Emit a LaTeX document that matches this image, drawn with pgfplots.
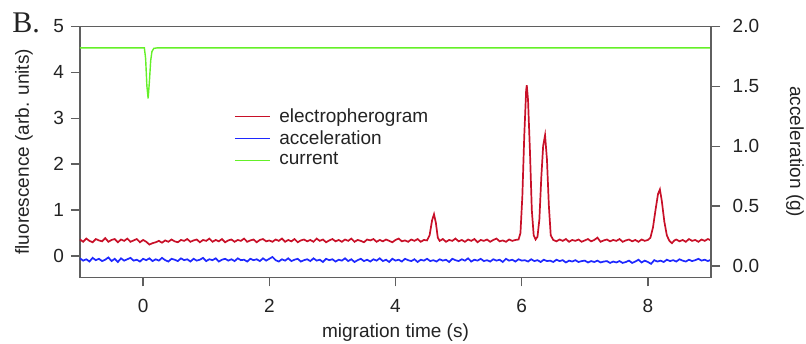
\documentclass[border=0pt]{standalone}
\usepackage{pgfplots}
\pgfplotsset{compat=1.18}
\usepackage{pgfplotstable}
\usepackage{fontspec}
\setmainfont{Liberation Sans}
\newfontfamily\seriffont{Liberation Serif}
\definecolor{elecred}{RGB}{200,16,40}
\definecolor{accblue}{RGB}{30,40,255}
\definecolor{curgreen}{RGB}{100,240,40}
\definecolor{framegray}{RGB}{95,95,95}
\definecolor{txt}{RGB}{35,35,35}

\pgfplotstableread{
x y
-1.00 0.36
-0.95 0.31
-0.90 0.38
-0.85 0.33
-0.80 0.30
-0.75 0.37
-0.70 0.34
-0.65 0.32
-0.60 0.39
-0.55 0.31
-0.50 0.35
-0.45 0.37
-0.40 0.30
-0.35 0.36
-0.30 0.33
-0.25 0.38
-0.20 0.31
-0.15 0.34
-0.10 0.37
-0.05 0.30
0.00 0.35
0.05 0.31
0.10 0.25
0.15 0.28
0.20 0.30
0.25 0.33
0.30 0.29
0.35 0.34
0.40 0.31
0.45 0.36
0.50 0.32
0.55 0.30
0.60 0.35
0.65 0.33
0.70 0.37
0.75 0.31
0.80 0.34
0.85 0.36
0.90 0.30
0.95 0.35
1.00 0.33
1.05 0.38
1.10 0.31
1.15 0.35
1.20 0.32
1.25 0.37
1.30 0.30
1.35 0.34
1.40 0.36
1.45 0.31
1.50 0.35
1.55 0.33
1.60 0.38
1.65 0.31
1.70 0.34
1.75 0.36
1.80 0.30
1.85 0.35
1.90 0.37
1.95 0.32
2.00 0.34
2.05 0.31
2.10 0.36
2.15 0.33
2.20 0.38
2.25 0.31
2.30 0.35
2.35 0.32
2.40 0.37
2.45 0.30
2.50 0.34
2.55 0.36
2.60 0.32
2.65 0.35
2.70 0.31
2.75 0.38
2.80 0.33
2.85 0.36
2.90 0.30
2.95 0.34
3.00 0.37
3.05 0.32
3.10 0.35
3.15 0.31
3.20 0.36
3.25 0.33
3.30 0.38
3.35 0.31
3.40 0.35
3.45 0.33
3.50 0.30
3.55 0.36
3.60 0.34
3.65 0.37
3.70 0.31
3.75 0.35
3.80 0.32
3.85 0.36
3.90 0.33
3.95 0.30
4.00 0.35
4.05 0.38
4.10 0.32
4.15 0.34
4.20 0.31
4.25 0.36
4.30 0.33
4.35 0.37
4.40 0.31
4.45 0.35
4.50 0.34
4.54 0.45
4.58 0.78
4.61 0.91
4.64 0.72
4.67 0.40
4.70 0.33
4.75 0.37
4.80 0.31
4.85 0.35
4.90 0.33
4.95 0.38
5.00 0.32
5.05 0.35
5.10 0.31
5.15 0.36
5.20 0.33
5.25 0.37
5.30 0.30
5.35 0.35
5.40 0.33
5.45 0.36
5.50 0.31
5.55 0.35
5.60 0.38
5.65 0.32
5.70 0.34
5.75 0.31
5.80 0.36
5.85 0.33
5.90 0.35
5.95 0.36
5.98 0.50
6.01 1.30
6.04 2.60
6.07 3.60
6.08 3.72
6.10 3.40
6.13 2.30
6.16 1.00
6.19 0.45
6.22 0.36
6.25 0.42
6.28 0.80
6.31 1.70
6.34 2.40
6.37 2.63
6.40 2.10
6.43 1.10
6.46 0.45
6.50 0.35
6.55 0.32
6.60 0.36
6.65 0.33
6.70 0.37
6.75 0.31
6.80 0.35
6.85 0.33
6.90 0.36
6.95 0.31
7.00 0.34
7.05 0.37
7.10 0.32
7.15 0.35
7.20 0.40
7.25 0.31
7.30 0.34
7.35 0.36
7.40 0.32
7.45 0.35
7.50 0.33
7.55 0.37
7.60 0.31
7.65 0.34
7.70 0.36
7.75 0.32
7.80 0.35
7.85 0.31
7.90 0.36
7.95 0.33
8.00 0.35
8.04 0.40
8.08 0.62
8.12 1.00
8.16 1.35
8.19 1.45
8.22 1.20
8.26 0.75
8.30 0.45
8.34 0.33
8.38 0.28
8.42 0.34
8.45 0.36
8.50 0.32
8.55 0.35
8.60 0.31
8.65 0.37
8.70 0.33
8.75 0.35
8.80 0.31
8.85 0.36
8.90 0.33
8.95 0.37
9.00 0.34
}\electro

\pgfplotstableread{
x y
-1.00 -0.05
-0.95 -0.10
-0.90 -0.07
-0.85 -0.12
-0.80 -0.04
-0.75 -0.09
-0.70 -0.06
-0.65 -0.11
-0.60 -0.08
-0.55 -0.03
-0.50 -0.11
-0.45 -0.06
-0.40 -0.13
-0.35 -0.05
-0.30 -0.10
-0.25 -0.07
-0.20 -0.04
-0.15 -0.10
-0.10 -0.08
-0.05 -0.12
0.00 -0.06
0.05 -0.09
0.10 -0.05
0.15 -0.11
0.20 -0.07
0.25 -0.10
0.30 -0.04
0.35 -0.09
0.40 -0.12
0.45 -0.06
0.50 -0.08
0.55 -0.11
0.60 -0.05
0.65 -0.09
0.70 -0.07
0.75 -0.12
0.80 -0.06
0.85 -0.10
0.90 -0.08
0.95 -0.04
1.00 -0.11
1.05 -0.07
1.10 -0.09
1.15 -0.05
1.20 -0.12
1.25 -0.08
1.30 -0.06
1.35 -0.10
1.40 -0.07
1.45 -0.11
1.50 -0.05
1.55 -0.09
1.60 -0.08
1.65 -0.12
1.70 -0.06
1.75 -0.09
1.80 -0.07
1.85 -0.11
1.90 -0.05
1.95 -0.10
2.00 -0.06
2.05 -0.02
2.10 -0.09
2.15 -0.12
2.20 -0.07
2.25 -0.10
2.30 -0.05
2.35 -0.11
2.40 -0.08
2.45 -0.06
2.50 -0.12
2.55 -0.09
2.60 -0.07
2.65 -0.11
2.70 -0.05
2.75 -0.10
2.80 -0.08
2.85 -0.13
2.90 -0.06
2.95 -0.09
3.00 -0.07
3.05 -0.12
3.10 -0.08
3.15 -0.10
3.20 -0.05
3.25 -0.11
3.30 -0.07
3.35 -0.13
3.40 -0.09
3.45 -0.06
3.50 -0.11
3.55 -0.08
3.60 -0.12
3.65 -0.07
3.70 -0.10
3.75 -0.05
3.80 -0.11
3.85 -0.08
3.90 -0.13
3.95 -0.06
4.00 -0.10
4.05 -0.08
4.10 -0.12
4.15 -0.06
4.20 -0.09
4.25 -0.11
4.30 -0.07
4.35 -0.13
4.40 -0.08
4.45 -0.10
4.50 -0.06
4.55 -0.11
4.60 -0.09
4.65 -0.12
4.70 -0.07
4.75 -0.10
4.80 -0.08
4.85 -0.13
4.90 -0.06
4.95 -0.09
5.00 -0.11
5.05 -0.07
5.10 -0.10
5.15 -0.05
5.20 -0.12
5.25 -0.08
5.30 -0.10
5.35 -0.06
5.40 -0.11
5.45 -0.09
5.50 -0.12
5.55 -0.07
5.60 -0.10
5.65 -0.08
5.70 -0.13
5.75 -0.06
5.80 -0.10
5.85 -0.08
5.90 -0.12
5.95 -0.07
6.00 -0.10
6.05 -0.09
6.10 -0.12
6.15 -0.07
6.20 -0.11
6.25 -0.09
6.30 -0.13
6.35 -0.08
6.40 -0.11
6.45 -0.10
6.50 -0.13
6.55 -0.08
6.60 -0.11
6.65 -0.09
6.70 -0.14
6.75 -0.10
6.80 -0.12
6.85 -0.09
6.90 -0.13
6.95 -0.11
7.00 -0.10
7.05 -0.14
7.10 -0.11
7.15 -0.13
7.20 -0.10
7.25 -0.14
7.30 -0.12
7.35 -0.11
7.40 -0.15
7.45 -0.12
7.50 -0.14
7.55 -0.11
7.60 -0.15
7.65 -0.13
7.70 -0.10
7.75 -0.15
7.80 -0.12
7.85 -0.08
7.90 -0.14
7.95 -0.10
8.00 -0.13
8.05 -0.17
8.10 -0.09
8.15 -0.12
8.20 -0.10
8.25 -0.13
8.30 -0.08
8.35 -0.11
8.40 -0.09
8.45 -0.12
8.50 -0.07
8.55 -0.10
8.60 -0.12
8.65 -0.08
8.70 -0.11
8.75 -0.09
8.80 -0.06
8.85 -0.10
8.90 -0.08
8.95 -0.11
9.00 -0.08
}\accel

\pgfplotstableread{
x y
-1.00 4.53
0.02 4.53
0.04 4.30
0.06 3.70
0.08 3.43
0.10 3.80
0.12 4.25
0.14 4.45
0.17 4.52
0.22 4.53
9.00 4.53
}\current

\pgfplotsset{
  common/.style={
    width=315.5pt, height=125.5pt, scale only axis,
    xmin=-1, xmax=9,
    axis line style={framegray, line width=0.65pt},
    tick style={framegray, line width=0.65pt},
    major tick length=4.5pt, tick align=outside,
    tick label style={font=\fontsize{9.5}{11}\selectfont, text=txt},
    label style={font=\fontsize{9.5}{11}\selectfont, text=txt},
    /pgf/number format/assume math mode=true,
  }
}

\begin{document}
\begin{tikzpicture}
\useasboundingbox (-40pt,-32.85pt) rectangle (363pt,138.65pt);
\begin{axis}[common,
  clip=false,
  ymin=-0.463, ymax=5,
  xtick={0,2,4,6,8}, ytick={0,1,2,3,4,5},
  xtick pos=bottom, ytick pos=left,
  xticklabel style={yshift=-2.8pt},
  xlabel={migration time (s)},
  ylabel={fluorescence (arb. units)},
  xlabel style={at={(axis description cs:0.5,-0.222)}, anchor=center},
  ylabel style={at={(axis description cs:-0.0887,0.5)}, anchor=center},
  legend style={at={(axis description cs:0.244,0.682)}, anchor=north west,
    draw=none, fill=none, inner sep=0pt,
    font=\fontsize{9.5}{11}\selectfont, text=txt,
    nodes={inner sep=1pt}, row sep=0.6pt,
    /tikz/every odd column/.append style={column sep=3.5pt}},
  legend cell align=left,
  legend image code/.code={\draw[#1, line width=0.5pt] (0pt,0pt) -- (17.5pt,0pt);},
]
\addplot[draw=elecred, line width=0.85pt] table[x=x, y=y] {\electro};
\addlegendentry{electropherogram}
\addplot[draw=accblue, line width=0.85pt] table[x=x, y=y] {\accel};
\addlegendentry{acceleration}
\addplot[draw=curgreen, line width=0.7pt] table[x=x, y=y] {\current};
\addlegendentry{current}
\node[font=\seriffont\fontsize{15}{15}\selectfont, text=txt, anchor=west, inner sep=0pt]
  at (rel axis cs:-0.1078,1.013) {B.};
\end{axis}
\begin{axis}[common,
  ymin=-0.0942, ymax=2.0,
  axis y line*=right, axis x line=none,
  ytick={0,0.5,1,1.5,2},
  yticklabel style={/pgf/number format/.cd, fixed, fixed zerofill, precision=1, /tikz/.cd, xshift=2.8pt},
  ylabel={acceleration (g)},
  ylabel style={at={(axis description cs:1.133,0.5)}, anchor=center, rotate=180},
]
\end{axis}
\end{tikzpicture}
\end{document}
